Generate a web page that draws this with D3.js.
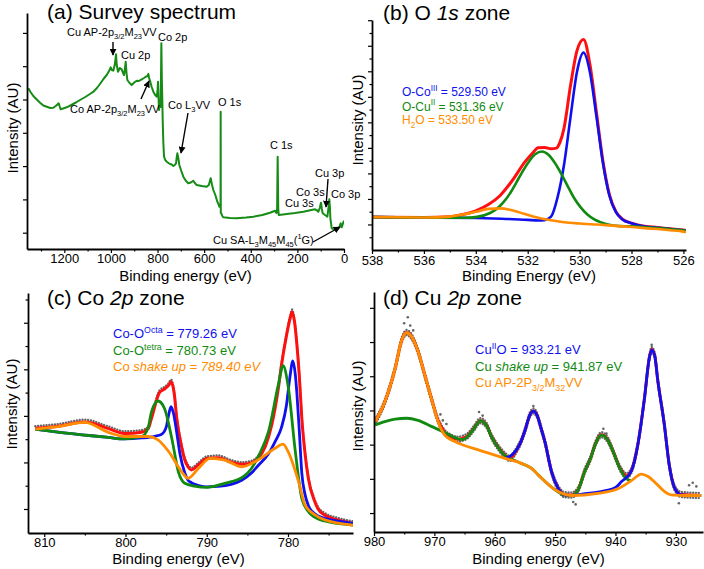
<!DOCTYPE html>
<html>
<head>
<meta charset="utf-8">
<script src="https://cdn.jsdelivr.net/npm/d3@7"></script>
<style>
  body { margin: 0; background: #fff; }
  svg { font-family: Arial, "Liberation Sans", sans-serif; }
</style>
</head>
<body>
<svg id="fig" width="704" height="569"></svg>
<script>
// ---- data: [binding energy (eV), intensity (a.u.)] ----

// (a) survey
const surveyPts = [[1354,160.7],[1345,157],[1333,153],[1318,149.5],[1304,146.3],[1290,143.5],[1275,142.3],[1260,141],[1247,141.3],[1235.5,143.3],[1224,145.7],[1219,142],[1215.5,139.7],[1205,140.5],[1190,141.7],[1170,144],[1150,146.5],[1132.6,149],[1110,152],[1090,155],[1075,157.3],[1060,161],[1047,165],[1032,170],[1018,174],[1008,178],[1001,181.7],[996,179],[989.6,178.3],[983,185],[978,194.7],[975,184],[969.5,177.3],[962,181],[953.8,179.7],[948,176],[943.8,174],[940,180],[936.6,187.3],[933,176],[929.5,169],[920,166],[910.9,164],[900,166.5],[889.5,168.3],[880,168],[868,169.7],[858,171],[849.4,172.3],[843,173],[839.5,175],[836,171],[832.3,168.3],[825,162],[818,157.3],[810,154],[803.6,152.3],[800,158],[798,167.3],[795.5,150],[793.6,139],[791.5,148],[789.4,149],[787,142],[785,175],[783.6,205.7],[781.5,170],[779.5,150],[777.9,129],[775,105.7],[772,92.3],[767,89],[760.8,87.3],[753,86],[746.5,85],[739,84.5],[732,83],[726,84],[720.7,85.7],[717.5,92],[715,95.7],[711,91],[706.4,84],[698,78],[689.3,72.3],[678,68],[668,65.7],[657,66.5],[646.6,68.3],[640,66],[632,64],[610,63],[589,62.3],[580,64],[572,70.7],[566,64],[560.6,59],[552,54],[543.4,47.3],[537,44],[534.8,42.3],[529.6,42],[529.1,137.3],[528.6,36],[526.3,35.7],[522,33],[517.7,31.7],[490,31],[460.5,30.7],[420,31.5],[389,32.3],[350,34],[317.5,36.3],[296,38.3],[290,36],[287,40],[284.6,92.3],[282,40],[280,34],[262,34.5],[246,35],[210,36],[174.4,37.3],[150,38.5],[124.4,39.7],[115,38.5],[110,37.3],[104,41],[98.7,46.3],[95,40],[91.5,35.7],[81.5,34],[75,33],[71.5,32.3],[67,40],[63,49.7],[60,40],[58.6,30.7],[55,25],[52.9,20.7],[45,20],[38.6,19.7],[30,20],[24.3,20.7],[18,23],[14.3,25.7],[10,21.7],[5,25],[0,28.3]];
const surveyTicks = [1200, 1000, 800, 600, 400, 200, 0];

// (b) O 1s
const o1sEnvelope = [[538,14.3],[536,14.15],[535,14.5],[534.5,15.4],[534,17],[533.5,19.85],[533.07,23.6],[532.6,30.1],[532.1,38.4],[531.8,42.3],[531.6,44.5],[531.35,44.6],[531.1,44],[530.9,44.3],[530.75,47],[530.6,53],[530.35,71.5],[530.1,86.7],[529.85,91.5],[529.6,80.5],[529.35,59.7],[529.1,38.6],[528.85,24],[528.6,16.7],[528.35,13.4],[528,11.7],[527.5,10.3],[527,9.8],[526.5,9.2],[526,8.7],[525.9,8.5]];
const o1sCo3 = [[538,14.3],[536,14.1],[534,13.9],[533,13.6],[532,13.1],[531.6,12.8],[531.35,13],[531.1,14.5],[530.85,22.9],[530.6,37.1],[530.35,57.8],[530.1,77.5],[529.85,85.8],[529.6,77.2],[529.35,58],[529.1,37.8],[528.85,23.6],[528.6,16.5],[528.35,13.3],[528,11.6],[527.5,10.2],[527,9.7],[526.5,9.1],[526,8.6],[525.9,8.4]];
const o1sCu2 = [[538,14.3],[536,14.1],[535,14],[534.45,14],[533.95,14.4],[533.45,16.1],[533.2,17.8],[532.95,20.6],[532.7,24.3],[532.45,29.1],[532.2,34.1],[531.95,38.5],[531.7,41.7],[531.45,42.8],[531.2,41.4],[530.95,37.8],[530.7,33],[530.45,27.6],[530.2,22.4],[529.95,18.4],[529.7,15.4],[529.45,13.4],[528.95,11.2],[528.45,10.4],[528,10.3],[527.5,9.9],[527,9.5],[526.5,9],[526,8.5],[525.9,8.3]];
const o1sH2O = [[538,14.3],[536,14.15],[535.5,14.2],[535,14.5],[534.5,15.4],[534,16.6],[533.5,17.9],[533.07,18.1],[532.6,17.3],[532.1,15.6],[531.6,14],[531.1,12.9],[530.6,12.1],[530,11.5],[529,10.8],[528,10],[527.5,9.5],[527,9.1],[526.5,8.6],[526,8],[525.9,7.8]];
const o1sTicks = [538, 536, 534, 532, 530, 528, 526];

// (c) Co 2p
const co2pEnvelope = [[811.1,43.6],[808.3,44.5],[805,46.3],[802.1,43.5],[800.1,41.5],[798,42],[797.2,43.5],[796.8,47.8],[795.8,58.6],[795.2,60],[794.7,61.5],[794.4,63],[794,58],[793.7,48],[793.1,36],[792.7,30.4],[792.3,27.5],[791.9,26.3],[791,28.5],[790,31],[788.6,31.4],[787,29.5],[785.7,28.6],[784.5,29.2],[783.7,31.1],[782.8,36],[782,45],[781.2,60],[780.8,70],[780.2,82],[779.7,90],[779.5,92.2],[779.2,88],[778.9,78.3],[778.6,65],[778.3,47.8],[777.9,33],[777.5,22.8],[776.7,13],[776.3,10],[775.5,7.5],[774,5.5],[772,4]];
const co2pOcta = [[811.1,43.3],[808.3,42],[805,40.8],[802.1,39.8],[800.1,39.2],[798,39.6],[796.4,40.3],[795.6,41],[795,44],[794.7,49],[794.4,52.6],[794.1,50],[793.7,42],[793.3,33],[792.7,25],[792.3,22],[791.9,21],[791,19.8],[790,19.2],[788.6,19.4],[787,20.3],[785.7,22],[784.5,25],[783.7,28],[782.4,33],[781.6,38],[780.8,44],[780.2,53],[779.8,64],[779.4,71.7],[779.1,66],[778.9,58],[778.6,42],[778.3,25],[777.9,16],[777.5,11.5],[776.7,8],[775.5,6.1],[774,5],[772,4]];
const co2pTetra = [[811.1,43.3],[808.3,42],[805,40.8],[802.1,39.8],[800.1,39.2],[798,40.2],[797.2,44],[796.8,50.5],[796,55],[795.2,51.9],[794.3,39.4],[793.5,25.6],[792.7,20.7],[791.5,19.5],[790,19],[787.8,20.7],[785.5,23.5],[784.5,26.9],[783.5,33],[782.4,42.2],[781.2,61.6],[780.6,69.7],[780,61.6],[779.1,34],[778.3,14.4],[777.5,9],[777.1,7.5],[775.5,5],[772,3.3]];
const co2pShake = [[811.1,43.3],[808.3,44.3],[805,46.1],[802.1,41.9],[800.1,40.2],[797.2,40.2],[796,38.8],[794.7,34],[793.1,25.6],[792.3,22.8],[791,27],[789.6,31.1],[787.8,30.4],[785.7,27.6],[783.7,30.4],[781.6,35.3],[780.6,37],[780,34],[778.7,21.4],[777.9,11.7],[776.7,7.6],[775.5,5.5],[772,3.3]];
const co2pTicks = [810, 800, 790, 780];

// (d) Cu 2p
const cu2pEnvelope = [[979.8,46],[978.2,54.3],[976.5,68.2],[975.4,80],[974.6,83.1],[973.8,81.5],[972.7,75.2],[971.6,65.5],[970.5,55.7],[969.4,46.5],[968.3,41.5],[967.2,39.5],[966,38.6],[965.4,39],[964.4,40.3],[963.4,43.4],[962.4,46.4],[961.4,44.6],[960.5,39.6],[959.4,35.2],[958.3,32],[957.5,30.6],[956.8,32.5],[956.2,35],[955.6,38],[954.9,43],[954.2,48.7],[953.6,50.4],[953,48.7],[952.3,43],[951.7,37.7],[950.6,25.2],[949.5,18.3],[948.4,15.5],[947.3,15.4],[946.2,17.6],[945.1,25.3],[944,31.6],[943.5,35.6],[942.3,40.5],[941.2,38.1],[940.7,35.4],[939,25.5],[938.2,23.4],[937.4,25.4],[936.3,36.4],[935.2,55.7],[934.4,72.5],[934,76],[933.5,73.6],[933,63.4],[931.9,44.7],[931.1,28.1],[930.2,18.4],[929.1,15.6],[925.8,15.2]];
const cu2pCuO = [[958.3,30.8],[957.2,32],[956.2,35],[955.6,38],[954.9,43],[954.2,48.7],[953.6,50.4],[953,48.7],[952.3,43],[951.7,37.7],[950.6,25.2],[949.5,18.3],[948.4,15.5],[947.3,15.3],[945,16],[942.9,16.6],[940,18.5],[939,21],[937.4,25.2],[936.3,36.3],[935.2,55.6],[934.4,72.4],[934,75.9],[933.5,73.5],[933,63.3],[931.9,44.6],[931.1,28],[930.2,18.3],[929.1,15.5],[925.8,15.2]];
const cu2pShake = [[979.8,44.6],[978.2,46],[976.5,47],[974.6,47.4],[972.7,46.5],[970.5,44],[968.3,41.5],[966.5,39.2],[965.4,38.5],[964.4,40],[963.4,43.2],[962.4,46.3],[961.4,44.5],[960.5,39.5],[959.4,35],[958.3,31.8],[957.5,30.5],[956.5,29.6],[955.6,28.6],[953.9,26.5],[952.8,23.8],[950,17.6],[948.4,15.4],[947.3,15.2],[946.2,17.5],[945.1,25.2],[944,31.5],[943.5,35.5],[942.3,40.4],[941.2,38],[940.7,35.3],[939,25.2],[938.2,22.2],[937.4,21.3]];
const cu2pAuger = [[979.8,46],[978.2,54.3],[976.5,68.2],[975.4,80],[974.6,83.1],[973.8,81.5],[972.7,75.2],[971.6,65.5],[970.5,55.7],[969.4,46],[968.3,40.4],[967.2,38.4],[966,37],[962.7,34.2],[958.3,30.7],[955.6,28.6],[953.9,26.5],[952.8,23.8],[950,17.6],[947.3,15.2],[942.9,16.1],[939.6,18],[937.4,21.3],[935.7,24.1],[934.6,23.1],[933.5,20.8],[931.9,16.9],[930.8,15.5],[928.5,15.2],[925.8,15.2]];
const cu2pRawOff = [[975,87],[974.4,89.5],[974,86],[973.5,84],[969,49],[968.6,46.5],[968,45],[962.6,50],[962,48.5],[953.6,52.5],[947,12.5],[946.6,11.5],[942,43],[941.5,41],[934,78],[929.5,12],[927.8,19.5],[927.2,20.5],[926.6,19]];
const cu2pTicks = [980, 970, 960, 950, 940, 930];

const BLUE = "#1010ee", GREEN = "#118a11", ORANGE = "#ff8c00", RED = "#ff1010";

const svg = d3.select("#fig");

function rich(sel, x, y, parts, size, color) {
  const t = sel.append("text").attr("x", x).attr("y", y)
    .attr("font-size", size).attr("fill", color || "#000");
  let shift = 0;
  parts.forEach(p => {
    const [str, kind] = typeof p === "string" ? [p, ""] : p;
    let target = 0, fs = size;
    if (kind === "sub") { target = size * 0.3; fs = size * 0.68; }
    if (kind === "sup") { target = -size * 0.42; fs = size * 0.68; }
    const ts = t.append("tspan").text(str).attr("dy", target - shift).attr("font-size", fs);
    if (kind === "i") ts.attr("font-style", "italic");
    shift = target;
  });
  return t;
}

function panel(o) {
  const x = d3.scaleLinear().domain(o.xDomain).range(o.xRange);
  const y = d3.scaleLinear().domain(o.yDomain).range(o.yRange);
  const g = svg.append("g");
  const id = "clip" + o.name;
  svg.append("clipPath").attr("id", id).append("rect")
    .attr("x", o.xRange[0]).attr("y", o.yRange[1])
    .attr("width", o.xRange[1] - o.xRange[0]).attr("height", o.yRange[0] - o.yRange[1]);

  const plot = g.append("g").attr("clip-path", `url(#${id})`);
  const line = d3.line().x(d => x(d[0])).y(d => y(d[1])).curve(o.curve || d3.curveMonotoneX);

  (o.dots || []).forEach(dd => {
    plot.append("path").datum(dd.data).attr("d", line)
      .attr("transform", `translate(0,${dd.dy})`)
      .attr("fill", "none").attr("stroke", "#666").attr("stroke-width", 2.3)
      .attr("stroke-linecap", "round").attr("stroke-dasharray", "0.1 2.7");
  });
  if (o.raw) {
    plot.selectAll("circle.raw").data(o.raw).join("circle").attr("class", "raw")
      .attr("cx", d => x(d[0])).attr("cy", d => y(d[1])).attr("r", 1.3).attr("fill", "#666");
  }
  o.series.forEach(s => {
    plot.append("path").datum(s.data).attr("d", line)
      .attr("fill", "none").attr("stroke", s.color).attr("stroke-width", s.width)
      .attr("stroke-linejoin", "round");
  });

  // axes
  const xa = g.append("g").attr("transform", `translate(0,${o.yRange[0]})`)
    .call(d3.axisBottom(x).tickValues(o.xTicks).tickSize(4).tickSizeOuter(0)
      .tickPadding(o.tickPad).tickFormat(d3.format("d")));
  xa.selectAll("text").attr("font-size", 13).attr("font-family", "Arial, Liberation Sans, sans-serif");
  g.append("g").attr("transform", `translate(0,${o.yRange[0]})`)
    .call(d3.axisBottom(x).tickValues(o.xMinor).tickSize(2.5).tickFormat(""))
    .call(s => s.select(".domain").remove());
  g.append("g").attr("transform", `translate(${o.xRange[0]},0)`)
    .call(d3.axisLeft(y).tickValues(o.yTicks).tickSize(4).tickSizeOuter(0).tickFormat(""));
  if (o.yMinor) {
    g.append("g").attr("transform", `translate(${o.xRange[0]},0)`)
      .call(d3.axisLeft(y).tickValues(o.yMinor).tickSize(2.5).tickFormat(""))
      .call(s => s.select(".domain").remove());
  }
  g.selectAll(".domain").attr("stroke-width", 1.8);
  g.selectAll(".tick line").attr("stroke-width", 1.2);

  g.append("text").attr("x", (o.xRange[0] + o.xRange[1]) / 2 + o.xLabelDx).attr("y", o.xLabelY)
    .attr("text-anchor", "middle").attr("font-size", 15).text(o.xLabel);
  g.append("text").attr("transform", `translate(${o.yLabelX},${o.yLabelY}) rotate(-90)`)
    .attr("text-anchor", "middle").attr("font-size", 15).text("Intensity (AU)");
  return { x, y, g };
}

// ---------- (a) ----------
const pa = panel({
  name: "a", xDomain: [1360, 0], xRange: [27, 344], yDomain: [0, 236], yRange: [249, 13],
  xTicks: surveyTicks, xMinor: d3.range(100, 1400, 200), tickPad: 1,
  yTicks: d3.range(16.3, 236, 33.3),
  curve: d3.curveLinear,
  series: [{ data: surveyPts, color: "#168c16", width: 2 }],
  xLabel: "Binding energy (eV)", xLabelDx: 0, xLabelY: 281, yLabelX: 18, yLabelY: 128
});
rich(pa.g, 47, 19, ["(a) Survey spectrum"], 21);
const ann = pa.g;
rich(ann, 67, 36, ["Cu AP-2p", ["3/2", "sub"], "M", ["23", "sub"], "VV"], 11);
rich(ann, 121, 59, ["Cu 2p"], 11);
rich(ann, 158, 41, ["Co 2p"], 11);
rich(ann, 70, 113, ["Co AP-2p", ["3/2", "sub"], "M", ["23", "sub"], "VV"], 11);
rich(ann, 168, 109, ["Co L", ["3", "sub"], "VV"], 11);
rich(ann, 218, 106, ["O 1s"], 11);
rich(ann, 270, 149, ["C 1s"], 11);
rich(ann, 315, 177, ["Cu 3p"], 11);
rich(ann, 296, 196, ["Co 3s"], 11);
rich(ann, 331, 198, ["Co 3p"], 11);
rich(ann, 285, 207, ["Cu 3s"], 11);
rich(ann, 213, 244, ["Cu SA-L", ["3", "sub"], "M", ["45", "sub"], "M", ["45", "sub"], "(", ["1", "sup"], "G)"], 11);

svg.append("defs").append("marker").attr("id", "arr").attr("viewBox", "0 0 10 10")
  .attr("refX", 9).attr("refY", 5).attr("markerWidth", 5).attr("markerHeight", 5)
  .attr("orient", "auto").append("path").attr("d", "M0,0L10,5L0,10z").attr("fill", "#000");
[[113, 42, 113, 55], [141, 99, 149, 81], [188, 113, 181, 153], [328, 179, 326, 207], [313, 242, 340, 227]]
  .forEach(a => ann.append("line").attr("x1", a[0]).attr("y1", a[1]).attr("x2", a[2]).attr("y2", a[3])
    .attr("stroke", "#000").attr("stroke-width", 1.4).attr("marker-end", "url(#arr)"));

// ---------- (b) ----------
const pb = panel({
  name: "b", xDomain: [538, 525.9], xRange: [372, 686], yDomain: [0, 100], yRange: [250, 20],
  xTicks: o1sTicks, xMinor: d3.range(537, 526, -2), tickPad: 2,
  yTicks: d3.range(11.1, 101, 11.1), yMinor: d3.range(5.55, 101, 11.1),
  series: [
    { data: o1sEnvelope, color: RED, width: 3 },
    { data: o1sCo3, color: BLUE, width: 2.6 },
    { data: o1sCu2, color: GREEN, width: 2.6 },
    { data: o1sH2O, color: ORANGE, width: 2.6 }
  ],
  xLabel: "Binding Energy (eV)", xLabelDx: 0, xLabelY: 281, yLabelX: 363, yLabelY: 120
});
rich(pb.g, 383, 20, ["(b) O ", ["1s", "i"], " zone"], 21);
rich(pb.g, 402, 96, ["O-Co", ["III", "sup"], " = 529.50 eV"], 12, BLUE);
rich(pb.g, 402, 110.5, ["O-Cu", ["II", "sup"], " = 531.36 eV"], 12, GREEN);
rich(pb.g, 402, 124, ["H", ["2", "sub"], "O = 533.50 eV"], 12, ORANGE);

// ---------- (c) ----------
const pc = panel({
  name: "c", xDomain: [812, 772], xRange: [28, 353], yDomain: [0, 100], yRange: [533, 293],
  xTicks: co2pTicks, xMinor: [805, 795, 785, 775], tickPad: 1,
  yTicks: d3.range(10, 100, 19.4), yMinor: d3.range(19.7, 100, 19.4),
  dots: [{ data: co2pEnvelope, dy: -2.2 }],
  series: [
    { data: co2pEnvelope, color: RED, width: 3 },
    { data: co2pOcta, color: BLUE, width: 2.8 },
    { data: co2pTetra, color: GREEN, width: 2.8 },
    { data: co2pShake, color: ORANGE, width: 2.8 }
  ],
  xLabel: "Binding energy (eV)", xLabelDx: -12, xLabelY: 564, yLabelX: 17, yLabelY: 404
});
rich(pc.g, 47, 305, ["(c) Co ", ["2p", "i"], " zone"], 21);
rich(pc.g, 113, 338, ["Co-O", ["Octa", "sup"], " = 779.26 eV"], 13, BLUE);
rich(pc.g, 113, 355, ["Co-O", ["tetra", "sup"], " = 780.73 eV"], 13, GREEN);
rich(pc.g, 113, 371, ["Co ", ["shake up = 789.40 eV", "i"]], 13, ORANGE);

// ---------- (d) ----------
const pd = panel({
  name: "d", xDomain: [980, 925.5], xRange: [374, 703], yDomain: [0, 100], yRange: [532, 292],
  xTicks: cu2pTicks, xMinor: [975, 965, 955, 945, 935], tickPad: 1,
  yTicks: d3.range(7.9, 100, 14.25),
  dots: [{ data: cu2pEnvelope, dy: -2.6 }, { data: cu2pEnvelope, dy: 0 }, { data: cu2pEnvelope, dy: 2.6 }],
  raw: cu2pRawOff,
  series: [
    { data: cu2pEnvelope, color: RED, width: 3 },
    { data: cu2pShake, color: GREEN, width: 2.8 },
    { data: cu2pCuO, color: BLUE, width: 2.8 },
    { data: cu2pAuger, color: ORANGE, width: 2.8 }
  ],
  xLabel: "Binding energy (eV)", xLabelDx: 0, xLabelY: 564, yLabelX: 363, yLabelY: 406
});
rich(pd.g, 383, 305, ["(d) Cu ", ["2p", "i"], " zone"], 21);
rich(pd.g, 475, 354, ["Cu", ["II", "sup"], "O = 933.21 eV"], 13, BLUE);
rich(pd.g, 475, 371, ["Cu ", ["shake up", "i"], " = 941.87 eV"], 13, GREEN);
rich(pd.g, 475, 387, ["Cu AP-2P", ["3/2", "sub"], "M", ["32", "sub"], "VV"], 13, ORANGE);
</script>
</body>
</html>
